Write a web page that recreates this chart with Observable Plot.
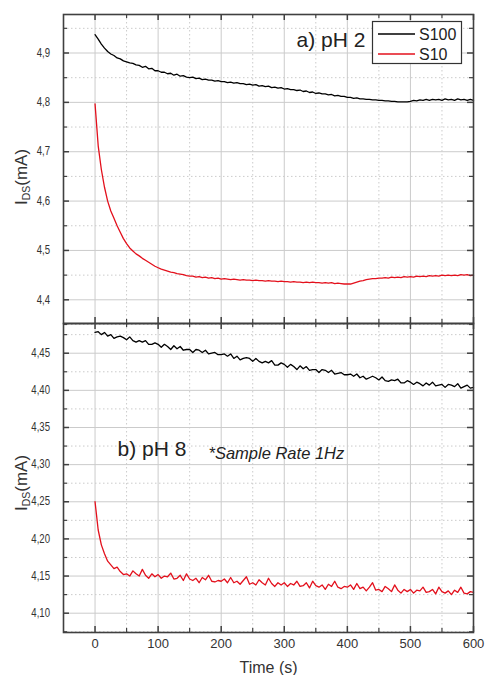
<!DOCTYPE html>
<html><head><meta charset="utf-8">
<script src="https://cdn.jsdelivr.net/npm/d3@7"></script>
<script src="https://cdn.jsdelivr.net/npm/@observablehq/plot@0.6"></script>
<style>
body{margin:0;background:#fff;}
#chart{position:relative;width:485px;height:675px;font-family:"Liberation Sans",Arial,sans-serif;}
#chart svg{position:absolute;left:0;background:transparent;overflow:visible;}
</style></head><body><div id="chart"></div>
<script>
// sample times (s)
const times = [0,5,10,15,20,25,30,35,40,45,50,55,60,65,70,75,80,85,90,95,
100,105,110,115,120,125,130,135,140,145,150,155,160,165,170,175,180,185,190,195,
200,205,210,215,220,225,230,235,240,245,250,255,260,265,270,275,280,285,290,295,
300,305,310,315,320,325,330,335,340,345,350,355,360,365,370,375,380,385,390,395,
400,405,410,415,420,425,430,435,440,445,450,455,460,465,470,475,480,485,490,495,
500,505,510,515,520,525,530,535,540,545,550,555,560,565,570,575,580,585,590,595,600];

// a) pH 2
const phA_S100 = [4.937,4.928,4.918,4.910,4.903,4.898,4.895,4.890,4.888,4.884,
4.882,4.880,4.879,4.876,4.875,4.871,4.873,4.868,4.869,4.864,
4.864,4.861,4.861,4.858,4.859,4.855,4.857,4.853,4.854,4.851,
4.850,4.851,4.848,4.849,4.846,4.847,4.845,4.845,4.843,4.844,
4.842,4.842,4.840,4.841,4.839,4.840,4.838,4.838,4.836,4.837,
4.835,4.836,4.833,4.834,4.832,4.833,4.830,4.831,4.829,4.830,
4.827,4.828,4.826,4.826,4.824,4.825,4.822,4.823,4.820,4.821,
4.818,4.819,4.817,4.817,4.815,4.816,4.813,4.814,4.812,4.812,
4.810,4.810,4.808,4.809,4.807,4.807,4.806,4.806,4.805,4.805,
4.804,4.804,4.803,4.803,4.802,4.802,4.801,4.801,4.801,4.801,
4.802,4.804,4.803,4.805,4.804,4.806,4.804,4.806,4.805,4.806,
4.804,4.807,4.805,4.806,4.804,4.807,4.805,4.806,4.804,4.806,4.804];
const phA_S10 = [4.797,4.712,4.664,4.628,4.600,4.580,4.565,4.550,4.537,4.524,
4.514,4.505,4.499,4.493,4.489,4.484,4.480,4.476,4.472,4.468,
4.465,4.462,4.460,4.458,4.456,4.455,4.453,4.452,4.451,4.449,
4.448,4.448,4.446,4.447,4.445,4.446,4.444,4.445,4.443,4.444,
4.442,4.443,4.442,4.441,4.442,4.441,4.440,4.441,4.440,4.440,
4.439,4.440,4.439,4.439,4.438,4.439,4.438,4.438,4.437,4.438,
4.437,4.437,4.436,4.437,4.436,4.436,4.435,4.436,4.435,4.436,
4.435,4.435,4.434,4.435,4.434,4.435,4.433,4.434,4.433,4.432,
4.432,4.432,4.434,4.436,4.438,4.439,4.441,4.442,4.443,4.443,
4.444,4.444,4.445,4.444,4.446,4.445,4.446,4.445,4.447,4.446,
4.447,4.446,4.448,4.447,4.448,4.447,4.449,4.448,4.449,4.448,
4.450,4.449,4.450,4.449,4.450,4.449,4.451,4.450,4.451,4.449,4.450];

// b) pH 8
const phB_S100 = [4.478,4.479,4.475,4.478,4.473,4.475,4.470,4.472,4.473,4.471,
4.468,4.472,4.467,4.465,4.467,4.465,4.467,4.462,4.462,4.464,
4.462,4.458,4.462,4.459,4.455,4.460,4.456,4.459,4.454,4.455,
4.455,4.451,4.455,4.454,4.451,4.454,4.449,4.450,4.451,4.448,
4.448,4.449,4.446,4.449,4.443,4.446,4.441,4.443,4.444,4.443,
4.439,4.443,4.439,4.437,4.439,4.437,4.440,4.434,4.434,4.437,
4.435,4.431,4.435,4.432,4.428,4.433,4.429,4.432,4.427,4.428,
4.428,4.424,4.428,4.427,4.424,4.427,4.422,4.423,4.424,4.421,
4.421,4.422,4.419,4.422,4.417,4.419,4.415,4.417,4.419,4.417,
4.414,4.418,4.413,4.412,4.414,4.413,4.415,4.410,4.410,4.413,
4.411,4.408,4.411,4.409,4.406,4.410,4.407,4.411,4.406,4.407,
4.408,4.404,4.408,4.407,4.405,4.409,4.403,4.405,4.407,4.403,4.404];
const phB_S10 = [4.250,4.212,4.192,4.180,4.170,4.165,4.160,4.162,4.156,4.152,
4.153,4.150,4.157,4.153,4.150,4.159,4.151,4.147,4.153,4.149,
4.152,4.147,4.150,4.149,4.154,4.146,4.147,4.151,4.144,4.153,
4.146,4.144,4.147,4.141,4.148,4.145,4.151,4.143,4.142,4.144,
4.143,4.146,4.141,4.148,4.141,4.143,4.139,4.144,4.149,4.139,
4.141,4.138,4.145,4.141,4.138,4.147,4.140,4.136,4.141,4.138,
4.141,4.136,4.140,4.138,4.143,4.136,4.137,4.141,4.134,4.143,
4.137,4.135,4.138,4.132,4.139,4.136,4.143,4.135,4.133,4.136,
4.135,4.138,4.132,4.140,4.133,4.135,4.130,4.135,4.141,4.131,
4.132,4.129,4.136,4.133,4.129,4.138,4.131,4.127,4.132,4.129,
4.132,4.127,4.131,4.130,4.135,4.128,4.129,4.132,4.126,4.135,
4.129,4.127,4.130,4.125,4.131,4.128,4.135,4.127,4.126,4.129,4.128];

const seriesNames = ["S100", "S10"];
const seriesColors = ["#000000", "#e3101c"];

const xMajor = [0,100,200,300,400,500,600];
const xMinor = [50,150,250,350,450,550];
const yMajorA = [4.4,4.5,4.6,4.7,4.8,4.9];
const yMinorA = [4.35,4.45,4.55,4.65,4.75,4.85,4.95];
const yMajorB = [4.10,4.15,4.20,4.25,4.30,4.35,4.40,4.45];
const yMinorB = [4.075,4.125,4.175,4.225,4.275,4.325,4.375,4.425,4.475];

const panelLabels = ["a) pH 2", "b) pH 8"];
const noteText = "*Sample Rate 1Hz";
const xLabel = "Time (s)";

const rows = (arr, s) => times.map((t, i) => ({t, v: arr[i], s}));
const dataA = [...rows(phA_S100, "S100"), ...rows(phA_S10, "S10")];
const dataB = [...rows(phB_S100, "S100"), ...rows(phB_S10, "S10")];

const W = 485, mL = 63, mR = 12;
const innerW = W - mL - mR;
const font = '"Liberation Sans", Arial, sans-serif';
const gridCol = "#cbcbcb", frameCol = "#404040", textCol = "#333";
const commaFmt = (p) => (d) => d3.format(`.${p}f`)(d).replace(".", ",");

function panelMarks(data, yMaj, yMin, innerH) {
  return [
    Plot.ruleX(xMinor, {stroke: gridCol, strokeDasharray: "1.5,2.5"}),
    Plot.ruleY(yMin, {stroke: gridCol, strokeDasharray: "1.5,2.5"}),
    Plot.ruleX(xMajor, {stroke: gridCol}),
    Plot.ruleY(yMaj, {stroke: gridCol}),
    Plot.line(data, {x: "t", y: "v", z: "s", stroke: "s", strokeWidth: 1.3, curve: "linear"}),
    // inward ticks on all four edges
    Plot.ruleX(xMajor, {stroke: frameCol, strokeWidth: 1.5, insetTop: innerH - 6}),
    Plot.ruleX(xMinor, {stroke: frameCol, strokeWidth: 1.2, insetTop: innerH - 4}),
    Plot.ruleX(xMajor, {stroke: frameCol, strokeWidth: 1.5, insetBottom: innerH - 6}),
    Plot.ruleX(xMinor, {stroke: frameCol, strokeWidth: 1.2, insetBottom: innerH - 4}),
    Plot.ruleY(yMaj, {stroke: frameCol, strokeWidth: 1.5, insetRight: innerW - 6}),
    Plot.ruleY(yMin, {stroke: frameCol, strokeWidth: 1.2, insetRight: innerW - 4}),
    Plot.ruleY(yMaj, {stroke: frameCol, strokeWidth: 1.5, insetLeft: innerW - 6}),
    Plot.ruleY(yMin, {stroke: frameCol, strokeWidth: 1.2, insetLeft: innerW - 4}),
    Plot.frame({stroke: frameCol, strokeWidth: 1.6})
  ];
}

function addYLabel(svg, cx, cy) {
  const lab = d3.select(svg).append("text")
    .attr("transform", `translate(${cx},${cy}) rotate(-90)`)
    .attr("text-anchor", "middle").attr("fill", textCol)
    .style("font-family", font).style("font-size", "17px");
  lab.append("tspan").text("I");
  lab.append("tspan").attr("dy", 3.5).style("font-size", "10.5px").text("DS");
  lab.append("tspan").attr("dy", -3.5).text("(mA)");
}

// y tick labels placed with the plot's own y scale; glyphs are narrow in the reference
function addYTickLabels(svg, ticks, fmt) {
  const y = svg.scale("y");
  const g = d3.select(svg).append("g")
    .attr("text-anchor", "end").attr("fill", textCol)
    .style("font-family", font).style("font-size", "12px");
  ticks.forEach(v => {
    g.append("text")
      .attr("transform", `translate(${mL - 13},${y.apply(v)}) scale(0.8,1)`)
      .attr("dy", "0.35em")
      .text(fmt(v));
  });
}

const chart = document.getElementById("chart");

// ---- top panel ----
const hA = 330, mTA = 14, mBA = 7;
const innerHA = hA - mTA - mBA;
const topPlot = Plot.plot({
  width: W, height: hA, marginLeft: mL, marginRight: mR, marginTop: mTA, marginBottom: mBA,
  style: {fontFamily: font, background: "transparent", overflow: "visible"},
  x: {domain: [-50, 600], axis: null},
  y: {domain: [4.352, 4.978], axis: null},
  color: {domain: seriesNames, range: seriesColors},
  marks: [
    ...panelMarks(dataA, yMajorA, yMinorA, innerHA),
    Plot.text([panelLabels[0]], {frameAnchor: "top-left", dx: 233, dy: 18, textAnchor: "start", fontSize: 21, fill: "#222", lineAnchor: "top"})
  ]
});
topPlot.style.top = "0px";
chart.appendChild(topPlot);
addYLabel(topPlot, 26.5, 177);
addYTickLabels(topPlot, yMajorA, commaFmt(1));

// legend
{
  const g = d3.select(topPlot).append("g").attr("text-anchor", "start");
  g.append("rect").attr("x", 372.5).attr("y", 21.5).attr("width", 89).attr("height", 42)
    .attr("fill", "#fff").attr("stroke", "#333").attr("stroke-width", 1.2);
  seriesNames.forEach((name, i) => {
    const yy = 34 + i * 20;
    g.append("line").attr("x1", 378).attr("x2", 415).attr("y1", yy).attr("y2", yy)
      .attr("stroke", seriesColors[i]).attr("stroke-width", 1.3);
    g.append("text").attr("x", 419).attr("y", yy + 6).attr("fill", "#222")
      .attr("text-anchor", "start")
      .style("font-family", font).style("font-size", "16px").text(name);
  });
}

// ---- bottom panel ----
const topB = 316, hB = 675 - topB, mTB = 7, mBB = 43;
const innerHB = hB - mTB - mBB;
const botPlot = Plot.plot({
  width: W, height: hB, marginLeft: mL, marginRight: mR, marginTop: mTB, marginBottom: mBB,
  style: {fontFamily: font, background: "transparent", overflow: "visible"},
  x: {domain: [-50, 600]},
  y: {domain: [4.074, 4.49], axis: null},
  color: {domain: seriesNames, range: seriesColors},
  marks: [
    ...panelMarks(dataB, yMajorB, yMinorB, innerHB),
    Plot.axisX(xMajor, {tickSize: 0, tickPadding: 6, tickFormat: d3.format("d"), fontSize: 13, fill: textCol, label: null}),
    Plot.text([xLabel], {frameAnchor: "bottom", dy: 40, fontSize: 16, fill: textCol, lineAnchor: "bottom"}),
    Plot.text([panelLabels[1]], {frameAnchor: "top-left", dx: 54, dy: 118, textAnchor: "start", fontSize: 21, fill: "#222", lineAnchor: "top"}),
    Plot.text([noteText], {frameAnchor: "top-left", dx: 145, dy: 124, textAnchor: "start", fontSize: 16.5, fontStyle: "italic", fill: "#222", lineAnchor: "top"})
  ]
});
botPlot.style.top = topB + "px";
chart.appendChild(botPlot);
addYLabel(botPlot, 26.5, 483 - topB);
addYTickLabels(botPlot, yMajorB, commaFmt(2));
</script>
</body></html>
